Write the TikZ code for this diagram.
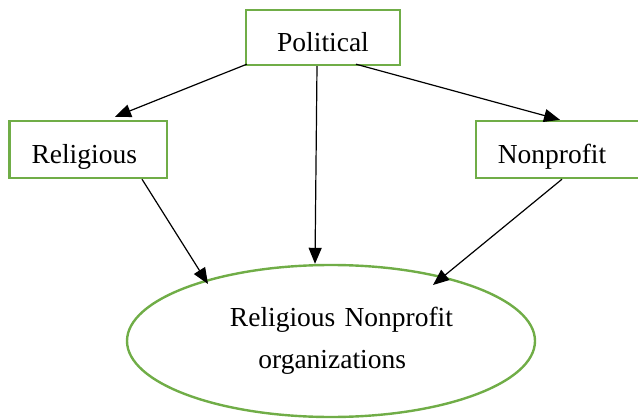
\documentclass[tikz,border=0pt]{standalone}
\usepackage{fontspec}
\setmainfont{Liberation Serif}
\usetikzlibrary{arrows.meta,shapes.geometric}
\definecolor{boxgreen}{HTML}{70AD47}
\begin{document}
\begin{tikzpicture}[x=1pt,y=-1pt,
  box/.style={draw=boxgreen,line width=2.4pt,inner sep=0pt,text height=27pt,text depth=0pt,font=\fontsize{27.5}{33}\selectfont},
  arr/.style={-{Triangle[length=16pt,width=13pt]},line width=1.2pt}]
\useasboundingbox (0,0) rectangle (638,420);
\node[box,minimum width=154pt,minimum height=55pt,text height=29pt] (pol) at (323,37.5) {Political};
\node[box,minimum width=157.5pt,minimum height=57pt] (rel) at (88.25,149.5) {Religious\hspace*{8pt}};
\node[box,minimum width=166pt,minimum height=57pt] (non) at (559,149.5) {Nonprofit\hspace*{14pt}};
\node[draw=boxgreen,line width=2.4pt,ellipse,inner sep=0pt,minimum width=408pt,minimum height=152pt,text width=244pt,align=right,font=\fontsize{27.5}{42}\selectfont] (org) at (331,341) {Religious Nonprofit\\organizations\hspace*{47pt}\mbox{}};
\draw[arr] ([xshift=2pt,yshift=2pt]pol.south west) -- ([xshift=26.75pt,yshift=3pt]rel.north);
\draw[arr] ([xshift=-6pt]pol.south) -- ([xshift=-16pt]org.north);
\draw[arr] ([xshift=33pt,yshift=2pt]pol.south) -- ([xshift=1pt]non.north);
\draw[arr] ([xshift=53.75pt]rel.south) -- ([xshift=-123pt,yshift=57pt]org.center);
\draw[arr] ([xshift=3pt]non.south) -- ([xshift=102pt,yshift=56pt]org.center);
\end{tikzpicture}
\end{document}
